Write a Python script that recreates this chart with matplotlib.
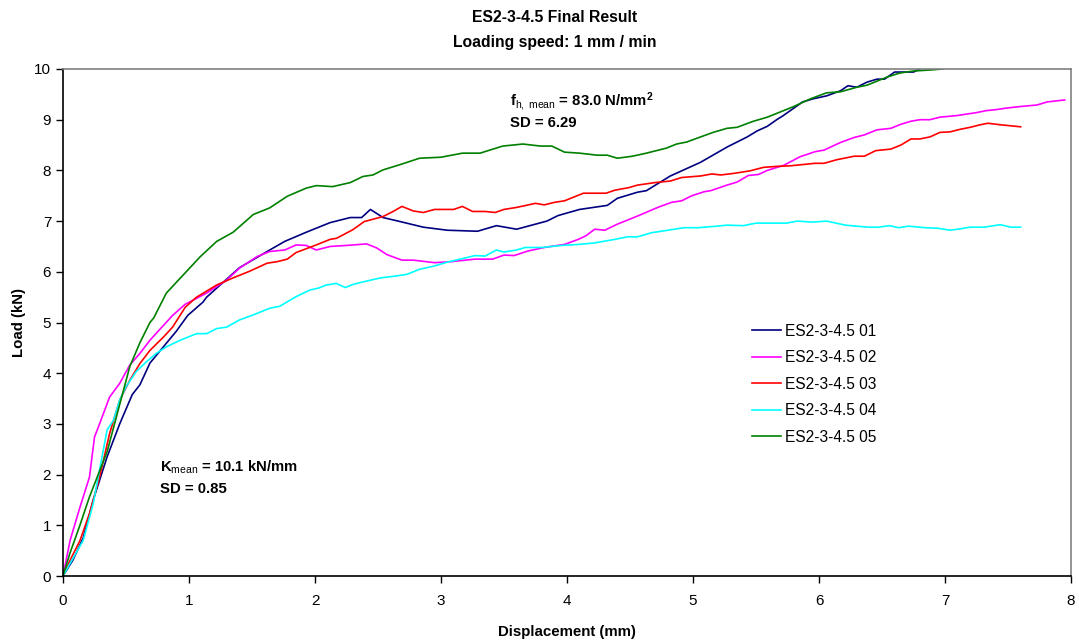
import matplotlib
matplotlib.use("Agg")
import matplotlib.pyplot as plt

plt.rcParams['font.family'] = ['Liberation Sans', 'DejaVu Sans']
plt.rcParams['mathtext.fontset'] = 'custom'
plt.rcParams['mathtext.rm'] = 'Liberation Sans'
plt.rcParams['mathtext.bf'] = 'Liberation Sans:bold'
plt.rcParams['mathtext.it'] = 'Liberation Sans:italic'

# load-displacement curves, five specimens (displacement mm, load kN)
x01 = [0, 0.08, 0.16, 0.24, 0.35, 0.45, 0.55, 0.61, 0.69, 0.79, 0.90, 0.99, 1.11, 1.14, 1.40, 1.62,
       1.76, 1.93, 2.12, 2.28, 2.37, 2.44, 2.54, 2.66, 2.86, 3.05, 3.29, 3.44, 3.60, 3.84, 3.93,
       4.10, 4.32, 4.40, 4.56, 4.63, 4.82, 5.06, 5.27, 5.43, 5.51, 5.59, 5.67, 5.71, 5.87, 5.95,
       6.06, 6.17, 6.23, 6.30, 6.38, 6.46, 6.52, 6.60, 6.75, 6.80]
y01 = [0, 0.32, 0.75, 1.5, 2.35, 3.0, 3.58, 3.77, 4.2, 4.5, 4.83, 5.14, 5.4, 5.5, 6.08, 6.4,
       6.6, 6.78, 6.97, 7.07, 7.07, 7.23, 7.07, 7.0, 6.88, 6.82, 6.8, 6.91, 6.84, 7.0, 7.11,
       7.23, 7.31, 7.45, 7.57, 7.6, 7.89, 8.16, 8.46, 8.66, 8.78, 8.87, 9.01, 9.07, 9.35, 9.41,
       9.47, 9.57, 9.67, 9.64, 9.74, 9.8, 9.8, 9.94, 9.94, 10.0]

x02 = [0, 0.056, 0.135, 0.21, 0.25, 0.29, 0.37, 0.45, 0.53, 0.61, 0.69, 0.80, 0.87, 0.97, 1.14,
       1.30, 1.40, 1.54, 1.64, 1.76, 1.85, 1.93, 2.01, 2.12, 2.25, 2.41, 2.49, 2.57, 2.69, 2.78,
       2.95, 3.08, 3.27, 3.41, 3.50, 3.58, 3.69, 3.82, 3.98, 4.09, 4.15, 4.22, 4.30, 4.40, 4.56,
       4.72, 4.83, 4.91, 4.99, 5.09, 5.14, 5.27, 5.35, 5.44, 5.52, 5.59, 5.72, 5.85, 5.91, 5.97,
       6.04, 6.17, 6.28, 6.36, 6.46, 6.57, 6.65, 6.73, 6.80, 6.88, 6.96, 7.09, 7.25, 7.33, 7.41,
       7.49, 7.60, 7.73, 7.81, 7.95]
y02 = [0, 0.70, 1.36, 1.95, 2.74, 3.0, 3.53, 3.8, 4.16, 4.39, 4.65, 4.95, 5.14, 5.36, 5.58,
       5.84, 6.07, 6.30, 6.40, 6.43, 6.53, 6.52, 6.43, 6.5, 6.52, 6.55, 6.47, 6.34, 6.23, 6.23,
       6.18, 6.2, 6.25, 6.25, 6.33, 6.32, 6.41, 6.48, 6.54, 6.64, 6.71, 6.84, 6.82, 6.94, 7.10,
       7.27, 7.37, 7.4, 7.5, 7.58, 7.6, 7.71, 7.77, 7.9, 7.92, 8.0, 8.1, 8.27, 8.32, 8.37,
       8.40, 8.55, 8.65, 8.70, 8.80, 8.83, 8.91, 8.97, 9.0, 9.0, 9.05, 9.08, 9.14, 9.18, 9.2,
       9.23, 9.26, 9.29, 9.35, 9.39]

x03 = [0, 0.056, 0.135, 0.21, 0.29, 0.37, 0.45, 0.53, 0.61, 0.69, 0.80, 0.87, 0.97, 1.06, 1.22,
       1.35, 1.48, 1.62, 1.70, 1.78, 1.85, 2.01, 2.12, 2.17, 2.30, 2.39, 2.54, 2.62, 2.69, 2.78,
       2.86, 2.95, 3.10, 3.17, 3.25, 3.35, 3.43, 3.50, 3.60, 3.75, 3.82, 3.90, 3.98, 4.06, 4.13,
       4.31, 4.38, 4.49, 4.56, 4.70, 4.82, 4.91, 5.06, 5.15, 5.22, 5.32, 5.45, 5.56, 5.67, 5.77,
       5.85, 5.97, 6.04, 6.14, 6.22, 6.28, 6.36, 6.45, 6.57, 6.65, 6.73, 6.80, 6.88, 6.96, 7.04,
       7.12, 7.20, 7.28, 7.34, 7.44, 7.52, 7.60]
y03 = [0, 0.31, 0.70, 1.23, 1.95, 2.81, 3.47, 3.86, 4.19, 4.45, 4.72, 4.91, 5.3, 5.5, 5.74,
       5.88, 6.01, 6.17, 6.2, 6.25, 6.38, 6.53, 6.64, 6.66, 6.83, 6.99, 7.09, 7.19, 7.29, 7.2,
       7.17, 7.23, 7.23, 7.29, 7.19, 7.19, 7.17, 7.23, 7.27, 7.35, 7.32, 7.37, 7.4, 7.48, 7.55,
       7.55, 7.61, 7.66, 7.71, 7.76, 7.79, 7.86, 7.89, 7.93, 7.91, 7.94, 7.99, 8.06, 8.08, 8.09,
       8.11, 8.14, 8.14, 8.21, 8.25, 8.28, 8.28, 8.39, 8.42, 8.50, 8.62, 8.62, 8.66, 8.75, 8.76,
       8.81, 8.85, 8.90, 8.93, 8.90, 8.88, 8.86]

x04 = [0, 0.085, 0.16, 0.24, 0.29, 0.35, 0.40, 0.45, 0.50, 0.58, 0.66, 0.74, 0.82, 0.93, 1.06,
       1.14, 1.22, 1.30, 1.40, 1.51, 1.64, 1.72, 1.85, 1.96, 2.03, 2.09, 2.17, 2.24, 2.30, 2.38,
       2.52, 2.62, 2.73, 2.83, 2.94, 3.05, 3.17, 3.27, 3.35, 3.44, 3.50, 3.60, 3.67, 3.80, 3.96,
       4.09, 4.22, 4.38, 4.48, 4.56, 4.67, 4.80, 4.93, 5.04, 5.19, 5.27, 5.40, 5.50, 5.74, 5.83,
       5.95, 6.06, 6.21, 6.39, 6.47, 6.56, 6.63, 6.71, 6.84, 6.94, 7.04, 7.10, 7.20, 7.31, 7.44,
       7.52, 7.60]
y04 = [0, 0.375, 0.70, 1.43, 2.09, 2.88, 3.07, 3.47, 3.73, 4.03, 4.22, 4.39, 4.52, 4.65, 4.78,
       4.78, 4.88, 4.91, 5.05, 5.15, 5.28, 5.32, 5.51, 5.64, 5.68, 5.74, 5.77, 5.69, 5.75, 5.8,
       5.88, 5.91, 5.95, 6.05, 6.11, 6.19, 6.26, 6.32, 6.31, 6.43, 6.39, 6.43, 6.48, 6.48, 6.52,
       6.54, 6.57, 6.64, 6.69, 6.69, 6.77, 6.82, 6.87, 6.87, 6.90, 6.92, 6.91, 6.96, 6.96, 7.0,
       6.98, 7.0, 6.92, 6.88, 6.88, 6.91, 6.87, 6.90, 6.87, 6.86, 6.82, 6.84, 6.88, 6.88, 6.93,
       6.88, 6.88]

x05 = [0, 0.055, 0.13, 0.21, 0.35, 0.53, 0.61, 0.69, 0.72, 0.82, 0.955, 1.09, 1.22, 1.35, 1.51,
       1.64, 1.78, 1.93, 2.01, 2.14, 2.28, 2.38, 2.46, 2.54, 2.67, 2.83, 3.0, 3.17, 3.31, 3.49,
       3.65, 3.79, 3.88, 3.98, 4.10, 4.24, 4.32, 4.40, 4.52, 4.63, 4.79, 4.87, 4.95, 5.06, 5.16,
       5.27, 5.35, 5.48, 5.59, 5.67, 5.79, 5.93, 6.06, 6.17, 6.30, 6.38, 6.54, 6.64, 6.75, 6.88,
       6.98]
y05 = [0, 0.45, 0.97, 1.56, 2.45, 4.13, 4.6, 5.0, 5.09, 5.58, 5.94, 6.30, 6.6, 6.78, 7.13,
       7.26, 7.49, 7.65, 7.7, 7.68, 7.76, 7.88, 7.91, 8.01, 8.11, 8.24, 8.26, 8.34, 8.34, 8.48,
       8.52, 8.48, 8.48, 8.36, 8.34, 8.30, 8.30, 8.24, 8.28, 8.34, 8.44, 8.52, 8.56, 8.66, 8.75,
       8.83, 8.85, 8.97, 9.05, 9.13, 9.25, 9.41, 9.53, 9.55, 9.64, 9.68, 9.84, 9.92, 9.96, 9.98,
       10.0]

labels = ['ES2-3-4.5 01', 'ES2-3-4.5 02', 'ES2-3-4.5 03', 'ES2-3-4.5 04', 'ES2-3-4.5 05']
colors = ['#000080', '#FF00FF', '#FF0000', '#00FFFF', '#008000']

xticks = [0, 1, 2, 3, 4, 5, 6, 7, 8]
yticks = [0, 1, 2, 3, 4, 5, 6, 7, 8, 9, 10]

fig = plt.figure(figsize=(10.79, 6.44), dpi=100)
ax = fig.add_axes([63 / 1079, 68 / 644, 1008 / 1079, 507 / 644])

series = [(x01, y01), (x02, y02), (x03, y03), (x04, y04), (x05, y05)]
for (xs, ys), lab, c in zip(series, labels, colors):
    ax.plot(xs, ys, color=c, linewidth=1.2, label=lab)

ax.set_xlim(0, 8)
ax.set_ylim(0, 10)
ax.set_xticks(xticks)
ax.set_yticks(yticks)
ax.tick_params(direction='out', length=5, width=1, labelsize=11, colors='black')
ax.tick_params(axis='x', pad=8)
for s in ['left', 'bottom']:
    ax.spines[s].set_color('black')
    ax.spines[s].set_linewidth(1.2)
for s in ['top', 'right']:
    ax.spines[s].set_color('#808080')
    ax.spines[s].set_linewidth(1.2)

ax.set_xlabel('Displacement (mm)', fontsize=10.8, fontweight='bold', labelpad=12)
ax.set_ylabel('Load (kN)', fontsize=10.8, fontweight='bold', labelpad=6)

fig.text(555 / 1079, 1 - 18 / 644, 'ES2-3-4.5 Final Result', ha='center', va='center',
         fontsize=11.3, fontweight='bold')
fig.text(555 / 1079, 1 - 42 / 644, 'Loading speed: 1 mm / min', ha='center', va='center',
         fontsize=11.3, fontweight='bold')

# strength and stiffness annotations
ax.text(3.545, 9.36, r'$\mathbf{f}_{\mathrm{h,\ mean}}$ = 83.0 N/mm$^{\mathbf{2}}$',
        fontsize=10.7, fontweight='bold', va='center')
ax.text(3.545, 8.94, 'SD = 6.29', fontsize=10.7, fontweight='bold', va='center')
ax.text(0.77, 2.14, r'$\mathbf{K}_{\mathrm{mean}}$ = 10.1 kN/mm',
        fontsize=10.7, fontweight='bold', va='center')
ax.text(0.77, 1.72, 'SD = 0.85', fontsize=10.7, fontweight='bold', va='center')

ax.legend(loc='upper left', bbox_to_anchor=(0.677, 0.51), frameon=False,
          fontsize=11.2, handlelength=1.9, handletextpad=0.25, labelspacing=0.74,
          borderaxespad=0)

fig.savefig('out.png', dpi=100)
